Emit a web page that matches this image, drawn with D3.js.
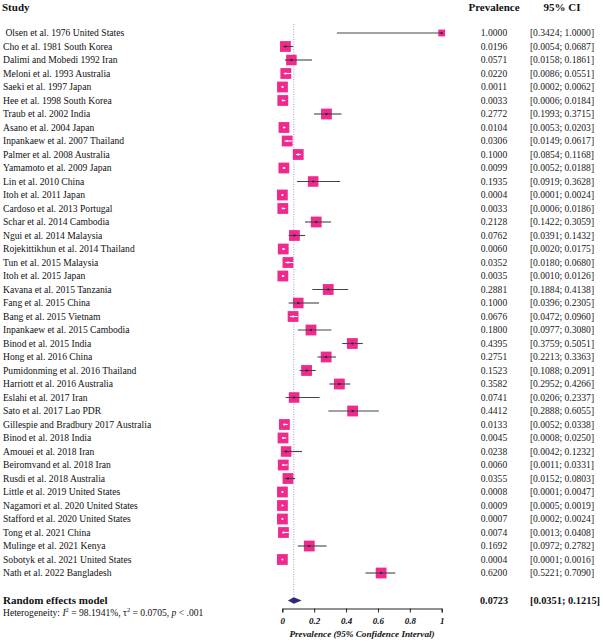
<!DOCTYPE html>
<html><head><meta charset="utf-8">
<script src="https://cdn.jsdelivr.net/npm/d3@7"></script>
<style>
html,body{margin:0;padding:0;background:#fff;}
svg{display:block;font-family:"Liberation Serif","Times New Roman",serif;}
</style></head>
<body><svg id="chart" width="603" height="643"></svg>
<script>
const studies = [" Olsen et al. 1976 United States","Cho et al. 1981 South Korea","Dalimi and Mobedi 1992 Iran","Meloni et al. 1993 Australia","Saeki et al. 1997 Japan","Hee et al. 1998 South Korea","Traub et al. 2002 India","Asano et al. 2004 Japan","Inpankaew et al. 2007 Thailand","Palmer et al. 2008 Australia","Yamamoto et al. 2009 Japan","Lin et al. 2010 China","Itoh et al. 2011 Japan","Cardoso et al. 2013 Portugal","Schar et al. 2014 Cambodia","Ngui et al. 2014 Malaysia","Rojekittikhun et al. 2014 Thailand","Tun et al. 2015 Malaysia","Itoh et al. 2015 Japan","Kavana et al. 2015 Tanzania","Fang et al. 2015 China","Bang et al. 2015 Vietnam","Inpankaew et al. 2015 Cambodia","Binod et al. 2015 India","Hong et al. 2016 China","Pumidonming et al. 2016 Thailand","Harriott et al. 2016 Australia","Eslahi et al. 2017 Iran","Sato et al. 2017 Lao PDR","Gillespie and Bradbury 2017 Australia","Binod et al. 2018 India","Amouei et al. 2018 Iran","Beiromvand et al. 2018 Iran","Rusdi et al. 2018 Australia","Little et al. 2019 United States","Nagamori et al. 2020 United States","Stafford et al. 2020 United States","Tong et al. 2021 China","Mulinge et al. 2021 Kenya","Sobotyk et al. 2021 United States","Nath et al. 2022 Bangladesh"];
const prevalence = [1.0000,0.0196,0.0571,0.0220,0.0011,0.0033,0.2772,0.0104,0.0306,0.1000,0.0099,0.1935,0.0004,0.0033,0.2128,0.0762,0.0060,0.0352,0.0035,0.2881,0.1000,0.0676,0.1800,0.4395,0.2751,0.1523,0.3582,0.0741,0.4412,0.0133,0.0045,0.0238,0.0060,0.0355,0.0008,0.0009,0.0007,0.0074,0.1692,0.0004,0.6200];
const ciLower = [0.3424,0.0054,0.0158,0.0086,0.0002,0.0006,0.1993,0.0053,0.0149,0.0854,0.0052,0.0919,0.0001,0.0006,0.1422,0.0391,0.0020,0.0180,0.0010,0.1884,0.0396,0.0472,0.0977,0.3759,0.2213,0.1088,0.2952,0.0206,0.2888,0.0052,0.0008,0.0042,0.0011,0.0152,0.0001,0.0005,0.0002,0.0013,0.0972,0.0001,0.5221];
const ciUpper = [1.0000,0.0687,0.1861,0.0551,0.0062,0.0184,0.3715,0.0203,0.0617,0.1168,0.0188,0.3628,0.0024,0.0186,0.3059,0.1432,0.0175,0.0680,0.0126,0.4138,0.2305,0.0960,0.3080,0.5051,0.3363,0.2091,0.4266,0.2337,0.6055,0.0338,0.0250,0.1232,0.0331,0.0803,0.0047,0.0019,0.0024,0.0408,0.2782,0.0016,0.7090];
const weights = [1.0,2.5,2.4,2.5,2.5,2.5,2.5,2.5,2.5,2.5,2.5,2.4,2.5,2.5,2.5,2.5,2.5,2.5,2.5,2.5,2.4,2.5,2.5,2.5,2.5,2.5,2.5,2.4,2.5,2.5,2.5,2.4,2.5,2.5,2.5,2.5,2.5,2.5,2.5,2.5,2.5];
const pooled = {est:0.0723, lo:0.0351, hi:0.1215};
const xTicks = [0,0.2,0.4,0.6,0.8,1];
const tickLabels = ["0","0.2","0.4","0.6","0.8","1"];

const fmt = d3.format(".4f");
const svg = d3.select("#chart");
const x = d3.scaleLinear().domain([0,1]).range([282.3,441.7]);
const y = d3.scalePoint().domain(d3.range(studies.length)).range([33,573]);
const size = d3.scaleSqrt().domain([0,2.5]).range([0,10.8]);
const PINK = "#F2298C", NAVY = "#2E2A78";

// headers
const hdr = svg.append("g").attr("font-weight","bold").attr("font-size","11px").attr("fill","#111");
hdr.append("text").attr("x",2).attr("y",10.5).text("Study");
hdr.append("text").attr("x",494).attr("y",10.5).attr("text-anchor","middle").text("Prevalence");
hdr.append("text").attr("x",562).attr("y",10.5).attr("text-anchor","middle").text("95% CI");

// reference line
svg.append("line").attr("x1",x(pooled.est)).attr("x2",x(pooled.est)).attr("y1",24).attr("y2",597)
  .attr("stroke","#9a9af0").attr("stroke-width",1).attr("stroke-dasharray","1,1.5");

// rows
const rows = svg.append("g").selectAll("g").data(studies).join("g")
  .attr("transform",(d,i)=>`translate(0,${y(i)})`);
rows.append("text").attr("x",3).attr("dy","0.35em").attr("font-size","9.6px").attr("fill","#111")
  .style("white-space","pre").text(d=>d);
rows.append("text").attr("x",494).attr("dy","0.35em").attr("text-anchor","middle").attr("font-size","9.6px").attr("fill","#222")
  .text((d,i)=>fmt(prevalence[i]));
rows.append("text").attr("x",562).attr("dy","0.35em").attr("text-anchor","middle").attr("font-size","9.6px").attr("fill","#222")
  .text((d,i)=>`[${fmt(ciLower[i])}; ${fmt(ciUpper[i])}]`);

// squares
rows.append("rect")
  .attr("x",(d,i)=>x(prevalence[i])-size(weights[i])/2)
  .attr("y",(d,i)=>-size(weights[i])/2)
  .attr("width",(d,i)=>size(weights[i])).attr("height",(d,i)=>size(weights[i]))
  .attr("fill",PINK);
// CI lines
rows.append("line")
  .attr("x1",(d,i)=>x(ciLower[i])).attr("x2",(d,i)=>x(ciUpper[i]))
  .attr("y1",0).attr("y2",0)
  .attr("stroke",(d,i)=>{const s=size(weights[i])/2;return (x(ciLower[i])>=x(prevalence[i])-s && x(ciUpper[i])<=x(prevalence[i])+s)?"#fff":"#444";})
  .attr("stroke-width",1.1);
rows.append("circle").attr("cx",(d,i)=>x(prevalence[i])).attr("cy",0).attr("r",1.1)
  .attr("fill",(d,i)=>{const s=size(weights[i])/2;return (x(ciLower[i])>=x(prevalence[i])-s && x(ciUpper[i])<=x(prevalence[i])+s)?"#fff":"#222";});

// pooled
const py = 600.5;
svg.append("text").attr("x",3).attr("y",py).attr("dy","0.35em").attr("font-weight","bold").attr("font-size","11px").attr("fill","#111").text("Random effects model");
svg.append("text").attr("x",494).attr("y",py).attr("dy","0.35em").attr("text-anchor","middle").attr("font-weight","bold").attr("font-size","10.2px").attr("fill","#111").text(fmt(pooled.est));
svg.append("text").attr("x",565).attr("y",py).attr("dy","0.35em").attr("text-anchor","middle").attr("font-weight","bold").attr("font-size","10.4px").attr("fill","#111").text(`[${fmt(pooled.lo)}; ${fmt(pooled.hi)}]`);
svg.append("path")
  .attr("d",`M${x(pooled.lo)},${py} L${x(pooled.est)},${py-3.2} L${x(pooled.hi)},${py} L${x(pooled.est)},${py+3.2} Z`)
  .attr("fill",NAVY);

const het = svg.append("text").attr("x",3).attr("y",613).attr("dy","0.35em").attr("font-size","9.6px").attr("fill","#111");
het.append("tspan").text("Heterogeneity: ");
het.append("tspan").attr("font-style","italic").text("I");
het.append("tspan").attr("font-size","6.5px").attr("dy","-4").text("2");
het.append("tspan").attr("dy","4").text(" = 98.1941%, τ");
het.append("tspan").attr("font-size","6.5px").attr("dy","-4").text("2");
het.append("tspan").attr("dy","4").text(" = 0.0705, ");
het.append("tspan").attr("font-style","italic").text("p");
het.append("tspan").text(" < .001");

// axis
const axis = d3.axisBottom(x).tickValues(xTicks).tickSize(4).tickFormat((d,i)=>tickLabels[i]);
const ax = svg.append("g").attr("transform","translate(0,608.5)").call(axis);
ax.select(".domain").attr("stroke","#222");
ax.selectAll(".tick line").attr("stroke","#222");
ax.selectAll(".tick text").attr("font-family","Liberation Serif, serif").attr("font-weight","bold").attr("font-style","italic")
  .attr("font-size","9px").attr("fill","#111").attr("dy","0.9em");
svg.append("text").attr("x",x(0.5)).attr("y",637).attr("text-anchor","middle").attr("font-weight","bold").attr("font-style","italic")
  .attr("font-size","9.2px").attr("fill","#111").text("Prevalence (95% Confidence Interval)");
</script></body></html>
